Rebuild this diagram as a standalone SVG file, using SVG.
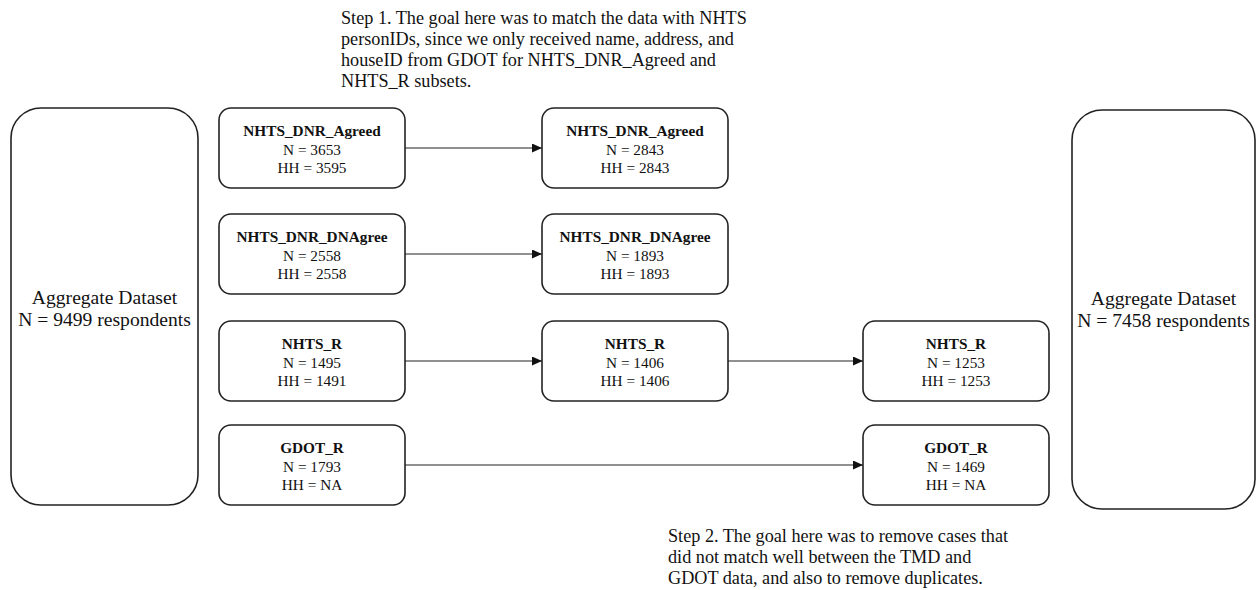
<svg xmlns="http://www.w3.org/2000/svg" width="1256" height="590" viewBox="0 0 1256 590">
<style>
.box{fill:#fff;stroke:#222;stroke-width:1.6}
.t{font-family:"Liberation Serif","Times New Roman",serif;font-size:15.3px;fill:#111;text-anchor:middle}
.b{font-weight:bold}
.big{font-family:"Liberation Serif","Times New Roman",serif;font-size:19.6px;fill:#111;text-anchor:middle}
.note{font-family:"Liberation Serif","Times New Roman",serif;font-size:18.2px;fill:#111}
.c{stroke:#222;stroke-width:1.2;fill:none;marker-end:url(#ah)}
</style>
<defs>
<marker id="ah" markerWidth="10" markerHeight="9" refX="10" refY="4.5" orient="auto" markerUnits="userSpaceOnUse">
<path d="M0,0 L10,4.5 L0,9 Z" fill="#111"/>
</marker>
</defs>
<rect width="1256" height="590" fill="#fff"/>
<g id="note1" class="note" xml:space="preserve">
<text x="341" y="24">Step 1.  The goal here was to match the data with NHTS</text>
<text x="341" y="45">personIDs, since we only received name, address, and</text>
<text x="341" y="66">houseID from GDOT for NHTS_DNR_Agreed and</text>
<text x="341" y="87">NHTS_R subsets.</text>
</g>
<g id="note2" class="note" xml:space="preserve">
<text x="668" y="542">Step 2.  The goal here was to remove cases that</text>
<text x="668" y="563">did not match well between the TMD and</text>
<text x="668" y="584">GDOT data, and also to remove duplicates.</text>
</g>
<g id="connectors">
<line class="c" x1="405" y1="148" x2="542" y2="148"/>
<line class="c" x1="405" y1="254" x2="542" y2="254"/>
<line class="c" x1="405" y1="361" x2="542" y2="361"/>
<line class="c" x1="728" y1="361" x2="863" y2="361"/>
<line class="c" x1="405" y1="465" x2="863" y2="465"/>
</g>
<g id="agg_in">
<rect class="box" x="11" y="108" width="187" height="397" rx="30"/>
<text class="big" x="104.5" y="304">Aggregate Dataset</text>
<text class="big" x="104.5" y="326">N = 9499 respondents</text>
</g>
<g id="agg_out">
<rect class="box" x="1072" y="110" width="183" height="399" rx="30"/>
<text class="big" x="1163.5" y="305">Aggregate Dataset</text>
<text class="big" x="1163.5" y="327">N = 7458 respondents</text>
</g>
<g id="a1">
<rect class="box" x="219" y="108" width="186" height="80" rx="12"/>
<text class="t b" x="312" y="136">NHTS_DNR_Agreed</text>
<text class="t" x="312" y="154.5">N = 3653</text>
<text class="t" x="312" y="173">HH = 3595</text>
</g>
<g id="a2">
<rect class="box" x="542" y="108" width="186" height="80" rx="12"/>
<text class="t b" x="635" y="136">NHTS_DNR_Agreed</text>
<text class="t" x="635" y="154.5">N = 2843</text>
<text class="t" x="635" y="173">HH = 2843</text>
</g>
<g id="d1">
<rect class="box" x="219" y="214" width="186" height="80" rx="12"/>
<text class="t b" x="312" y="242">NHTS_DNR_DNAgree</text>
<text class="t" x="312" y="260.5">N = 2558</text>
<text class="t" x="312" y="279">HH = 2558</text>
</g>
<g id="d2">
<rect class="box" x="542" y="214" width="186" height="80" rx="12"/>
<text class="t b" x="635" y="242">NHTS_DNR_DNAgree</text>
<text class="t" x="635" y="260.5">N = 1893</text>
<text class="t" x="635" y="279">HH = 1893</text>
</g>
<g id="r1">
<rect class="box" x="219" y="321" width="186" height="80" rx="12"/>
<text class="t b" x="312" y="349">NHTS_R</text>
<text class="t" x="312" y="367.5">N = 1495</text>
<text class="t" x="312" y="386">HH = 1491</text>
</g>
<g id="r2">
<rect class="box" x="542" y="321" width="186" height="80" rx="12"/>
<text class="t b" x="635" y="349">NHTS_R</text>
<text class="t" x="635" y="367.5">N = 1406</text>
<text class="t" x="635" y="386">HH = 1406</text>
</g>
<g id="r3">
<rect class="box" x="863" y="321" width="186" height="80" rx="12"/>
<text class="t b" x="956" y="349">NHTS_R</text>
<text class="t" x="956" y="367.5">N = 1253</text>
<text class="t" x="956" y="386">HH = 1253</text>
</g>
<g id="g1">
<rect class="box" x="219" y="425" width="186" height="80" rx="12"/>
<text class="t b" x="312" y="453">GDOT_R</text>
<text class="t" x="312" y="471.5">N = 1793</text>
<text class="t" x="312" y="490">HH = NA</text>
</g>
<g id="g2">
<rect class="box" x="863" y="425" width="186" height="80" rx="12"/>
<text class="t b" x="956" y="453">GDOT_R</text>
<text class="t" x="956" y="471.5">N = 1469</text>
<text class="t" x="956" y="490">HH = NA</text>
</g>
</svg>
